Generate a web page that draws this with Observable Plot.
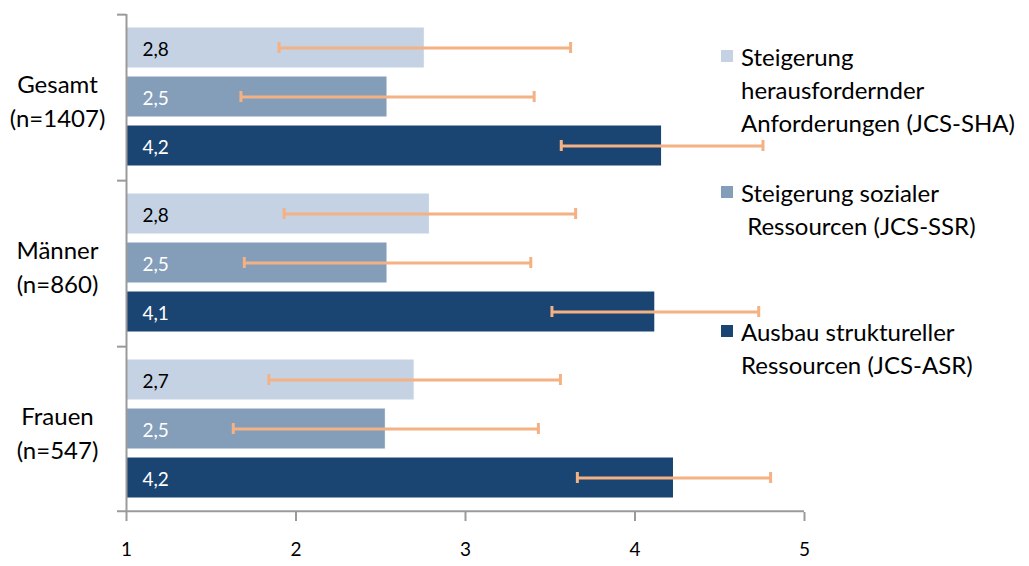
<!DOCTYPE html>
<html><head><meta charset="utf-8">
<script src="https://cdn.jsdelivr.net/npm/d3@7"></script>
<script src="https://cdn.jsdelivr.net/npm/@observablehq/plot@0.6"></script>
<style>
body{margin:0;background:#fff;font-family:Lato,"Open Sans",sans-serif}
#wrap{position:relative;width:1029px;height:566px}
.item{position:absolute;left:721px;font-size:24px;line-height:33px;color:#000;white-space:pre}
.item .sw{position:absolute;left:0;top:10px;width:12px;height:12px}
.item .tx{margin-left:20px}
</style></head><body><div id="wrap"></div>
<script>
const groups = ["Gesamt", "Männer", "Frauen"];
const groupN = ["n=1407", "n=860", "n=547"];
const series = ["JCS-SHA", "JCS-SSR", "JCS-ASR"];
const legendLines = [
  ["Steigerung", "herausfordernder", "Anforderungen (JCS-SHA)"],
  ["Steigerung sozialer", " Ressourcen (JCS-SSR)"],
  ["Ausbau struktureller", "Ressourcen (JCS-ASR)"]
];
const colors = ["#c5d2e3", "#849db9", "#1a4572"];
const meanSHA = [2.76, 2.79, 2.70];
const meanSSR = [2.54, 2.54, 2.53];
const meanASR = [4.16, 4.12, 4.23];
const sdSHA = [0.86, 0.86, 0.86];
const sdSSR = [0.865, 0.845, 0.90];
const sdASR = [0.595, 0.61, 0.57];
const xTicks = [1, 2, 3, 4, 5];

const means = [meanSHA, meanSSR, meanASR];
const sds = [sdSHA, sdSSR, sdASR];
const data = [];
groups.forEach((g, gi) => series.forEach((s, si) => data.push({group: g, series: s, mean: means[si][gi], sd: sds[si][gi]})));
const fmt = v => v.toLocaleString("de-DE", {minimumFractionDigits: 1, maximumFractionDigits: 1});
const axisColor = "#9a9a9a";
const errColor = "#f4b183";
const half = 33.35;

const chart = Plot.plot({
  width: 1029, height: 566,
  marginLeft: 126, marginRight: 225, marginTop: 13, marginBottom: 53,
  style: {fontFamily: "Lato, 'Open Sans', sans-serif", background: "white"},
  x: {domain: [xTicks[0], xTicks[xTicks.length - 1]], ticks: xTicks},
  y: {domain: series, paddingInner: 0.16, paddingOuter: 0.247, axis: null},
  fy: {domain: groups, padding: 0, axis: null},
  color: {domain: series, range: colors},
  marks: [
    Plot.barX(data, {fy: "group", y: "series", x1: () => xTicks[0], x2: "mean", fill: "series", stroke: "white", strokeWidth: 1}),
    Plot.ruleY(data, {fy: "group", y: "series", x1: d => d.mean - d.sd, x2: d => d.mean + d.sd, stroke: errColor, strokeWidth: 3}),
    Plot.tickX(data, {fy: "group", y: "series", x: d => d.mean - d.sd, stroke: errColor, strokeWidth: 3, insetTop: 15, insetBottom: 15}),
    Plot.tickX(data, {fy: "group", y: "series", x: d => d.mean + d.sd, stroke: errColor, strokeWidth: 3, insetTop: 15, insetBottom: 15}),
    Plot.text(data.filter(d => d.series === series[0]), {fy: "group", y: "series", x: () => xTicks[0], dx: 16, dy: 2, text: d => fmt(d.mean), textAnchor: "start", fill: "black", fontSize: 19}),
    Plot.text(data.filter(d => d.series !== series[0]), {fy: "group", y: "series", x: () => xTicks[0], dx: 16, dy: 2, text: d => fmt(d.mean), textAnchor: "start", fill: "white", fontSize: 19}),
    Plot.ruleX([xTicks[0]], {stroke: axisColor, strokeWidth: 2}),
    Plot.ruleY(groups, {fy: d => d, y: () => series[0], x1: xTicks[0], x2: xTicks[0], insetLeft: -9, dy: -half, stroke: axisColor, strokeWidth: 2}),
    Plot.ruleY([groups[groups.length - 1]], {fy: d => d, y: () => series[series.length - 1], x1: xTicks[0], x2: xTicks[xTicks.length - 1], insetLeft: -9, dy: half, stroke: axisColor, strokeWidth: 2}),
    Plot.axisX({ticks: xTicks, tickSize: 9, tickPadding: 21, stroke: axisColor, strokeWidth: 2, fill: "black", fontSize: 19, label: null, tickFormat: d => String(d)}),
    Plot.text(groups, {fy: d => d, frameAnchor: "left", dx: -69, dy: 2, text: (d, i) => `${d}\n(${groupN[i]})`, textAnchor: "middle", fontSize: 24, lineHeight: 1.42, fill: "black"})
  ]
});
const wrap = document.getElementById("wrap");
wrap.appendChild(chart);
const tops = [40, 176, 315];
legendLines.forEach((lines, i) => {
  const div = document.createElement("div");
  div.className = "item";
  div.style.top = tops[i] + "px";
  const sw = document.createElement("div");
  sw.className = "sw";
  sw.style.background = colors[i];
  div.appendChild(sw);
  const tx = document.createElement("div");
  tx.className = "tx";
  tx.textContent = lines.join("\n");
  div.appendChild(tx);
  wrap.appendChild(div);
});
</script>
</body></html>
